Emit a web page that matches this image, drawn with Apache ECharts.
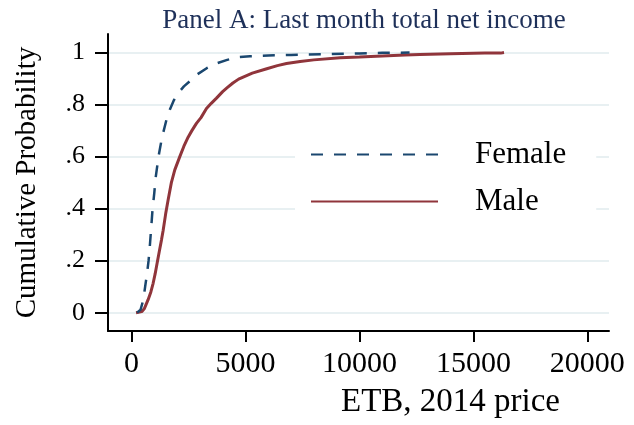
<!DOCTYPE html>
<html>
<head>
<meta charset="utf-8">
<script src="https://cdn.jsdelivr.net/npm/echarts@6/dist/echarts.min.js"></script>
<style>
  html, body { margin: 0; padding: 0; background: #fff; }
  #chart { width: 634px; height: 425px; }
</style>
</head>
<body>
<div id="chart"></div>
<script>
// Empirical CDF of last month total net income (ETB, 2014 prices), by sex
const femaleIncome = [250, 400, 520, 600, 685, 750, 803, 860, 922, 1000, 1067, 1140, 1212, 1300, 1387, 1530, 1681, 1850, 2046, 2300, 2559, 2850, 3300, 3750, 4200, 4650, 5200, 6000, 7000, 8500, 10000, 11000, 12200];
const femaleProb   = [0, 0.012, 0.05, 0.10, 0.152, 0.20, 0.254, 0.32, 0.395, 0.46, 0.523, 0.57, 0.613, 0.655, 0.69, 0.74, 0.78, 0.815, 0.844, 0.87, 0.89, 0.914, 0.94, 0.959, 0.972, 0.982, 0.986, 0.989, 0.991, 0.994, 0.997, 0.999, 1.0];

const maleIncome = [200, 450, 560, 730, 850, 950, 1040, 1124, 1220, 1317, 1387, 1500, 1607, 1750, 1900, 2120, 2300, 2485, 2650, 2850, 3050, 3290, 3500, 3730, 4000, 4200, 4450, 4700, 4950, 5300, 5900, 6400, 6800, 7400, 8000, 9150, 10000, 11000, 12000, 12650, 14000, 15500, 16200, 16344];
const maleProb   = [0, 0.004, 0.015, 0.05, 0.08, 0.113, 0.15, 0.19, 0.235, 0.28, 0.315, 0.38, 0.433, 0.50, 0.549, 0.60, 0.64, 0.675, 0.70, 0.728, 0.75, 0.785, 0.805, 0.825, 0.85, 0.865, 0.883, 0.898, 0.908, 0.921, 0.937, 0.95, 0.958, 0.966, 0.972, 0.98, 0.983, 0.987, 0.991, 0.993, 0.996, 0.998, 0.998, 1.0];

const xTicks = [0, 5000, 10000, 15000, 20000];
const yTicks = [0, 0.2, 0.4, 0.6, 0.8, 1];
const yTickText = {0: '0', 0.2: '.2', 0.4: '.4', 0.6: '.6', 0.8: '.8', 1: '1'};

const zip = (xs, ys) => xs.map((x, i) => [x, ys[i]]);
const serif = 'Liberation Serif';

const chart = echarts.init(document.getElementById('chart'), null, { renderer: 'canvas' });
chart.setOption({
  backgroundColor: '#ffffff',
  animation: false,
  title: {
    text: 'Panel A: Last month total net income',
    left: 359, textAlign: 'center', top: 2,
    textStyle: { fontFamily: serif, fontSize: 27, fontWeight: 'normal', color: '#1e3059' }
  },
  grid: { left: 108, right: 25, top: 34, bottom: 94, containLabel: false },
  legend: {
    data: ['Female', 'Male'],
    orient: 'vertical',
    left: 295, top: 133,
    backgroundColor: '#ffffff',
    padding: [6, 30, 6, 15],
    itemWidth: 127, itemHeight: 30, itemGap: 16,
    // line-only keys: hide the marker that line legends add by default
    itemStyle: { color: 'transparent', borderWidth: 0, opacity: 0 },
    textStyle: { fontFamily: serif, fontSize: 31, lineHeight: 30, color: '#000', padding: [0, 0, 0, 32] }
  },
  xAxis: {
    type: 'value', min: -1030, max: 20950,
    name: 'ETB, 2014 price', nameLocation: 'middle', nameGap: 55,
    nameTextStyle: { fontFamily: serif, fontSize: 33, color: '#000', padding: [0, 0, 0, 184] },
    axisLine: { show: true, onZero: false, lineStyle: { color: '#000', width: 2 } },
    axisTick: { show: true, length: 11, lineStyle: { color: '#000', width: 2 }, customValues: xTicks },
    axisLabel: {
      customValues: xTicks, margin: 18, fontFamily: serif, fontSize: 30, color: '#000',
      formatter: v => String(Math.round(v))
    },
    splitLine: { show: false }
  },
  yAxis: {
    type: 'value', min: -0.0704, max: 1.0715,
    name: 'Cumulative Probability', nameLocation: 'middle', nameGap: 66, nameRotate: 90,
    nameTextStyle: { fontFamily: serif, fontSize: 29, color: '#000' },
    axisLine: { show: true, onZero: false, lineStyle: { color: '#000', width: 2 } },
    axisTick: { show: true, length: 13, lineStyle: { color: '#000', width: 2 }, customValues: yTicks },
    axisLabel: {
      customValues: yTicks, margin: 23, fontFamily: serif, fontSize: 26, color: '#000',
      formatter: v => yTickText[Math.round(v * 10) / 10] ?? ''
    },
    splitLine: { show: true, lineStyle: { color: '#e8f0f2', width: 2 } }
  },
  series: [
    {
      name: 'Female', type: 'line', data: zip(femaleIncome, femaleProb),
      symbol: 'none', smooth: false,
      lineStyle: { color: '#1a476f', width: 2.5, type: [12, 11] },
      itemStyle: { color: '#1a476f' }, z: 3
    },
    {
      name: 'Male', type: 'line', data: zip(maleIncome, maleProb),
      symbol: 'none', smooth: false,
      lineStyle: { color: '#90353b', width: 3, type: 'solid' },
      itemStyle: { color: '#90353b' }, z: 2
    }
  ]
});
</script>
</body>
</html>
